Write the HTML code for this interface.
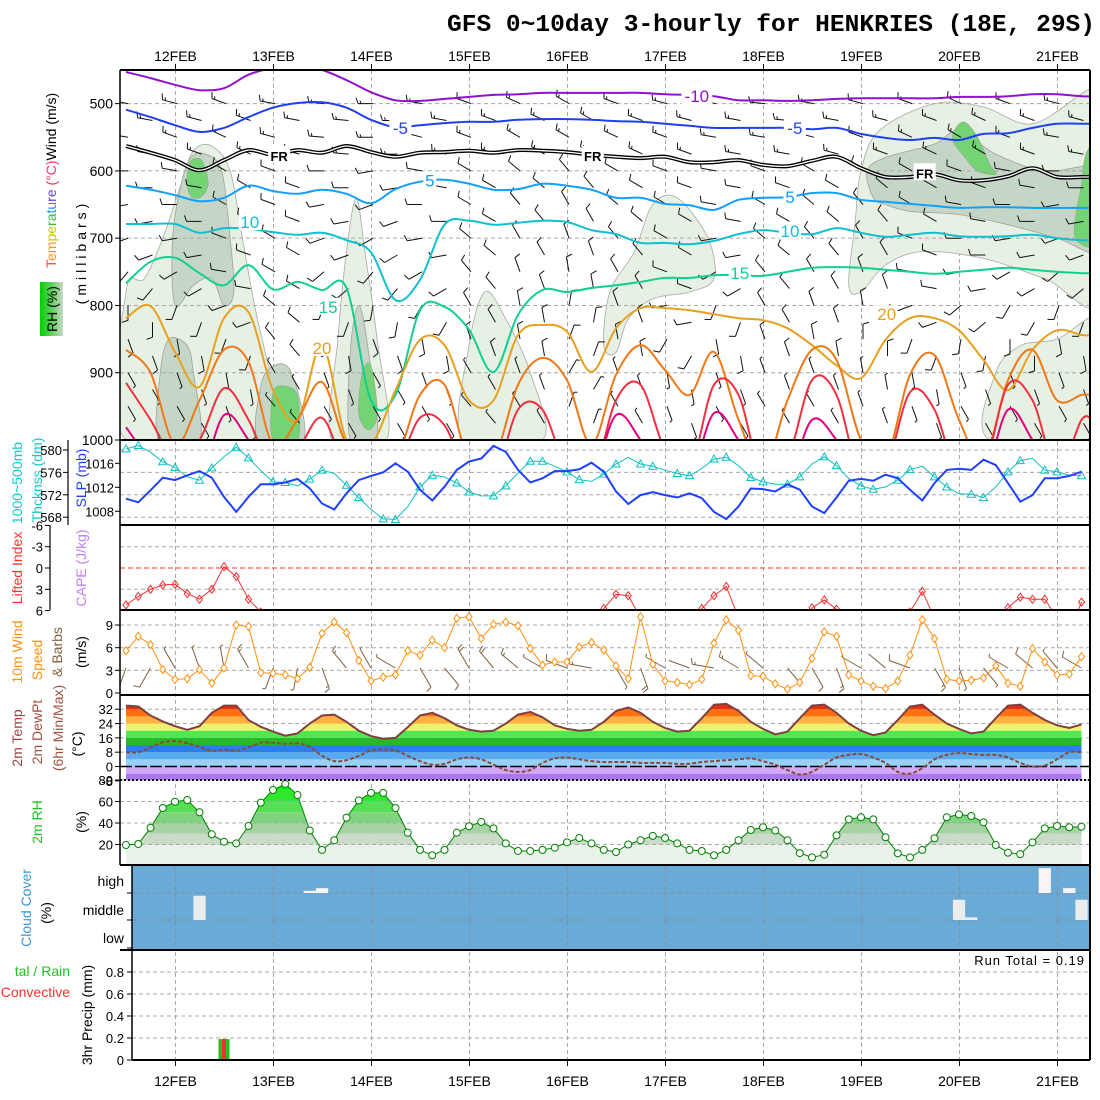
<!DOCTYPE html>
<html><head><meta charset="utf-8">
<style>
html,body{margin:0;padding:0;background:#fff;width:1100px;height:1100px;overflow:hidden}
svg{display:block;font-family:"Liberation Sans",sans-serif}
</style></head>
<body>
<svg id="c" width="1100" height="1100" viewBox="0 0 1100 1100">
<defs>
<clipPath id="clip1"><rect x="120" y="70" width="970" height="370"/></clipPath>
<clipPath id="clip2"><rect x="120" y="440" width="970" height="85"/></clipPath>
<clipPath id="clip3"><rect x="120" y="525" width="970" height="85"/></clipPath>
<clipPath id="clip4"><rect x="120" y="610" width="970" height="85"/></clipPath>
<linearGradient id="rhbox" x1="0" x2="1" y1="0" y2="0"><stop offset="0" stop-color="#00d000"/><stop offset="0.5" stop-color="#60d060"/><stop offset="1" stop-color="#c8d8c8"/></linearGradient>
</defs>
<rect x="0" y="0" width="1100" height="1100" fill="#fff"/>
<text x="447" y="31" textLength="648" lengthAdjust="spacingAndGlyphs" font-family="Liberation Mono,monospace" font-size="24" font-weight="bold">GFS 0~10day 3-hourly for HENKRIES (18E, 29S)</text>

<g font-size="14">
<text transform="translate(56,268) rotate(-90)"><tspan fill="#ff4040">T</tspan><tspan fill="#ff9020">em</tspan><tspan fill="#c8c800">pe</tspan><tspan fill="#30c030">ra</tspan><tspan fill="#2090f0">tu</tspan><tspan fill="#6040e0">re</tspan><tspan fill="#ff3060"> (°C)</tspan><tspan fill="#000">Wind (m/s)</tspan></text>
<rect x="40" y="282" width="23" height="54" fill="url(#rhbox)"/>
<text transform="translate(57,309) rotate(-90)" text-anchor="middle">RH (%)</text>
<text transform="translate(86,252) rotate(-90)" text-anchor="middle" letter-spacing="4">(millibars)</text>
<text transform="translate(22,483) rotate(-90)" text-anchor="middle" fill="#10c8c8">1000~500mb</text>
<text transform="translate(42,480) rotate(-90)" text-anchor="middle" fill="#10c8c8">Thcknss (dm)</text>
<text transform="translate(86,478) rotate(-90)" text-anchor="middle" fill="#2040ff">SLP (mb)</text>
<text transform="translate(22,568) rotate(-90)" text-anchor="middle" fill="#ff3030">Lifted Index</text>
<text transform="translate(86,568) rotate(-90)" text-anchor="middle" fill="#c080f0">CAPE (J/kg)</text>
<text transform="translate(22,652) rotate(-90)" text-anchor="middle" fill="#ff9010">10m Wind</text>
<text transform="translate(42,660) rotate(-90)" text-anchor="middle" fill="#ff9010">Speed</text>
<text transform="translate(62,652) rotate(-90)" text-anchor="middle" fill="#806040">&amp; Barbs</text>
<text transform="translate(86,652) rotate(-90)" text-anchor="middle">(m/s)</text>
<text transform="translate(22,738) rotate(-90)" text-anchor="middle" fill="#a04040">2m Temp</text>
<text transform="translate(42,732) rotate(-90)" text-anchor="middle" fill="#a05040">2m DewPt</text>
<text transform="translate(63,728) rotate(-90)" text-anchor="middle" fill="#a05040">(6hr Min/Max)</text>
<text transform="translate(82,744) rotate(-90)" text-anchor="middle">(°C)</text>
<text transform="translate(42,822) rotate(-90)" text-anchor="middle" fill="#20c020">2m RH</text>
<text transform="translate(86,822) rotate(-90)" text-anchor="middle">(%)</text>
<text transform="translate(31,908) rotate(-90)" text-anchor="middle" fill="#3a96d8">Cloud Cover</text>
<text transform="translate(51,913) rotate(-90)" text-anchor="middle">(%)</text>
<text transform="translate(92,1015) rotate(-90)" text-anchor="middle">3hr Precip (mm)</text>
<text x="70" y="976" text-anchor="end" fill="#20c020">tal / Rain</text>
<text x="70" y="997" text-anchor="end" fill="#ff3030">Convective</text>
</g>

<g id="grid"></g>
<g id="p1" clip-path="url(#clip1)"></g>
<g id="p2" clip-path="url(#clip2)"></g>
<g id="p3" clip-path="url(#clip3)"></g>
<g id="p4" clip-path="url(#clip4)"></g>
<g id="p5"></g>
<g id="p6"></g>
<g id="p7"></g>
<g id="p8"></g>
<g id="axes"></g>
<text x="1085" y="965" text-anchor="end" font-size="13" letter-spacing="1">Run Total = 0.19</text>
</svg>
<script>
// ---------- DATA ----------
const days = ['12FEB','13FEB','14FEB','15FEB','16FEB','17FEB','18FEB','19FEB','20FEB','21FEB'];
const slp = [1010.1,1009.5,1011.5,1013.6,1013.2,1014,1014.7,1013.6,1010.4,1007.9,1010.4,1012.5,1012.5,1012.8,1013.4,1011.8,1009.3,1008.3,1011,1013.2,1013.9,1014.5,1016,1014.6,1011.6,1009.8,1012.1,1014.9,1016.3,1016.8,1018.9,1017.9,1014.9,1012.8,1013.5,1014.7,1014.7,1015,1016.1,1014.6,1011.3,1009.2,1010.7,1011.2,1010.7,1010.3,1011,1010.2,1007.9,1006.7,1008.8,1011.8,1011.7,1011.3,1012.5,1011.6,1008.8,1007.7,1010.3,1013.1,1013.4,1013.1,1014.1,1013.5,1011.6,1009.8,1012.7,1014.9,1015.1,1014.9,1016.6,1015.7,1012.7,1009.6,1010.7,1013.5,1013.5,1013.9,1014.6];
const thick = [580.2,580.8,579.6,577.9,576.9,575.2,574.6,576.8,578.8,580.5,578.6,576.3,574.3,574.2,573.6,574.8,576.4,575.8,573.7,571.5,569.4,567.7,567.6,569.9,573.4,575.5,575.2,574.1,572.5,571.8,571.8,573.6,575.9,578,578,577.1,576.1,574.7,574.4,575.7,577.5,578.7,577.5,577.1,576.4,575.8,575.4,576.7,578.4,578.7,577.2,575.1,574.3,573.9,573.9,575.2,577.5,578.8,577.2,574.9,573.6,573,573.4,574.6,576.5,577.1,575.2,573.4,572.2,572.1,571.5,573.4,576.1,578.1,578.5,576.4,576.1,575.5,575.4];
const liftedIndex = [5.2,4,3,2.4,2.3,3.6,4.4,3,-0.2,1.2,4.4,6.2,9,9,9,9,9,9,9,9,9,9,9,9,9,9,9,9,9,9,9,9,9,9,9,9,9,9,9,5.7,3.7,3.9,7,9,9,9,9,5.7,3.9,2.6,7,9,9,9,9,9,5.6,4.5,5.8,7,9,9,9,9,6.2,3.3,7,9,9,9,9,9,5.6,4.1,4.4,4.4,7,9,4.8];
const wind10 = [5.6,7.5,6.4,3.1,1.8,1.9,3.1,1.3,3.3,9,8.8,2.7,2.6,2.4,1.9,3.4,7.9,9.4,8,4.3,1.6,2.1,2.4,5.6,5,7,6,9.9,10.1,7.2,9.1,9.4,8.9,5.9,3.7,4.1,4.1,6.1,6.7,5.7,3.6,1.9,10.1,3.8,1.6,1.4,1.1,1.8,6.6,9.7,8.3,2.3,2.2,1.2,0.5,1.4,4.6,8.1,7.5,2.4,1.6,0.9,0.6,1.6,5,9.7,7.2,1.8,1.6,1.7,2,3.6,1.3,0.9,5.9,4.1,2.4,2.5,4.8];
const windDir10 = [200,210,330,340,350,330,200,190,160,320,330,300,150,140,330,320,310,300,290,280,150,160,300,290,280,300,310,140,150,160,300,310,290,150,160,140,300,310,320,300];
const temp2m = [34,33.5,28.5,25.2,22.5,20.5,22.5,30,34,34,26,22.2,19.5,17.2,18.5,24,28.5,29,25,20,17,15.5,16,22,28.5,30,27,23,20.5,19.5,20,24,29,30.5,27.5,23,21,20,20.5,25,31,33,30,25,21.5,19.5,20,27,34.5,35,31,25,21,18,19.5,27,34,34.5,30,24,20,17.5,19,26,33.5,34.5,29,24,21,18.5,19.5,27,34,34.5,30,26,23,21.5,23.5];
const dew2m = [8,8,10.7,13.5,14.2,13,11,8.8,9.5,8.8,10.7,13.3,13.3,12.6,13,11,6,3,3.5,6,9,9.5,9,6,3,1,1.5,4,5,4,1,-2,-3,-2,2,4.5,5,4,3,2.5,2.5,2.5,2,2,2,1.5,1.5,2.5,3,3.5,4,4.5,3,1,-2,-4.5,-3,1,5,6.5,7,5,2,-3,-4,-1,4,6.5,7.5,7,6.5,6.5,5,2,0,0.5,4,8,8];
const rh2m = [19.5,20.5,35.6,54,59.8,61.4,50,29.5,22.6,21,37.2,58.9,70.7,76.3,66,33,15,24,45,61,68,68,54,31,15,10,15,31,37,41,35,21,14,14,15,17,22,26,21,15,13,20,24,28,26,21,15,14,10,15,24,33.5,36,33,24,12,8,10.5,28.5,43.4,45.3,43.4,26.7,11.8,8,15,25.7,45.3,48,46.5,40.6,19.5,12.4,11,22,35,37.2,36,36.6];
const cloudHigh = [[15,8],[16,18],[75,92],[77,18]];
const cloudMid = [[6,90],[68,75],[69,10],[78,75]];
const precipTotal = [[8,0.19]];
const precipConv = [[8,0.19]];
const isoM10 = [453,462,472,480,477,457,447,444,450,465,483,495,496,493,490,487,486,484,484,484,484,484,486,487,489,495,495,496,495,493,492,492,492,492,490,490,489,486,486,489];
const isoM5 = [509,520,532,542,536,520,506,499,498,506,524,535,532,529,527,527,524,523,523,524,526,527,530,533,536,536,536,536,538,536,545,551,554,551,554,545,544,536,530,530];
const isoFR = [563,573,584,599,584,569,576,569,573,563,572,579,573,572,570,573,569,570,572,576,579,581,579,587,587,584,591,593,585,579,596,609,609,605,614,614,608,596,609,609];
const isoP5 = [622,628,636,645,640,622,630,634,628,634,648,627,616,613,619,628,627,619,622,628,640,640,649,651,658,643,640,639,633,633,643,646,649,652,655,654,654,655,655,655];
const isoP10 = [679,679,679,692,685,686,691,695,692,703,721,792,762,680,674,680,677,674,676,688,694,707,707,709,704,694,688,692,694,685,692,698,695,692,697,698,697,695,700,703];
const isoP15 = [767,735,729,752,770,740,776,765,777,774,941,933,807,802,836,899,814,777,780,774,770,765,759,759,755,755,756,750,744,743,744,747,750,753,750,747,744,747,750,752];
const isoP20 = [819,801,869,921,819,810,926,970,859,1000,1007,926,851,859,941,941,844,829,839,899,834,804,804,807,813,819,822,834,859,889,908,851,819,819,837,881,926,866,837,844];
const isoP25 = [866,900,1007,941,866,884,1007,970,914,1007,1030,1030,933,918,1030,1030,918,878,911,1007,903,859,896,933,869,970,1045,941,866,881,1000,1030,903,874,970,1030,911,866,941,933];
const isoP30 = [915,970,1030,1000,923,970,1045,1015,967,1045,1060,1045,967,978,1060,1060,955,955,1045,1060,941,918,1015,1045,918,933,1060,1030,911,933,1060,1045,929,955,1060,1045,918,941,1045,970];
const isoP35 = [981,1030,1060,1060,963,1000,1060,1060,1060,1060,1060,1060,1060,1060,1060,1060,1060,1060,1060,1060,963,1000,1060,1060,960,1000,1060,1060,970,1000,1060,1060,1060,1060,1060,1060,955,1000,1060,1060];
const rhLight = [
 [[0,1000],[0,780],[1.5,760],[3,700],[4.5,620],[5.5,570],[7,563],[8.5,600],[9.5,700],[10.5,800],[11.5,880],[12.5,950],[13,1000]],
 [[16.8,1000],[17.3,850],[18,720],[18.8,640],[19.5,720],[20.5,850],[21.3,1000]],
 [[27.5,1000],[28,860],[29.3,780],[31,820],[33,900],[34,1000]],
 [[39,860],[39.5,780],[41.5,720],[43,650],[45,640],[47.5,700],[48,760],[46,780],[43,790],[41,820],[40,870]],
 [[59,770],[59.5,680],[60,600],[61.5,540],[66,500],[70,505],[74,530],[78.5,480],[80,480],[80,790],[75,760],[70,730],[65,720],[62,740],[60,780]],
 [[70.5,1000],[71,900],[73,860],[76,850],[80,820],[80,1000]]];
const rhMid = [
 [[4,800],[3.8,700],[4.5,620],[5.3,580],[6.5,575],[7.8,600],[8.5,700],[8.8,780],[8,800],[7,760],[5.5,770]],
 [[2.7,1000],[2.8,900],[3.5,850],[5,860],[5.5,900],[6,1000]],
 [[10.8,1000],[11,920],[12,890],[13.5,900],[14.5,1000]],
 [[18.3,1000],[18.3,870],[19,800],[19.8,870],[20.5,1000]],
 [[60.5,600],[62,580],[66,560],[68,540],[71,575],[75,600],[80,600],[80,720],[76,700],[72,680],[68,665],[64,660],[62,650],[61,640]]];
const rhWet = [
 [[5,610],[5.3,585],[6.2,585],[6.7,620],[6,640],[5.2,635]],
 [[12,1000],[12,930],[13,920],[14,935],[14,1000]],
 [[19,960],[19.3,900],[20,890],[20.5,960],[19.8,985]],
 [[67.5,555],[67.8,535],[68.5,528],[69.5,550],[70.5,590],[71,605],[69.5,600],[68.5,580]],
 [[77.5,700],[78,620],[78.5,570],[80,555],[80,700]]];
const barbLevels = [500,550,600,650,700,750,800,850,900,950];
const barbSpeed = [7,7,6,6,5,5,4,4,3,3];
const dir500 = [280,285,290,280,275,270,280,290,295,300,290,285,280,275,280,285,290,295,290,285];
const dir550 = [280,290,295,285,275,270,285,290,300,300,295,290,280,280,285,290,295,300,290,280];
const dir600 = [270,280,300,290,270,260,280,300,310,320,300,290,280,290,300,310,300,290,280,270];
const dir650 = [260,270,300,290,260,250,270,300,320,330,310,300,280,300,310,320,300,280,270,260];
const dir700 = [250,260,290,300,250,240,260,310,330,340,320,300,260,310,320,330,290,270,260,250];
const dir750 = [220,240,280,300,230,220,240,320,340,350,330,290,240,320,330,340,280,260,240,230];
const dir800 = [180,200,250,310,200,190,210,330,350,10,340,260,200,330,340,350,250,230,210,200];
const dir850 = [160,170,200,320,170,160,170,340,350,20,350,210,170,340,350,0,200,190,180,170];
const dir900 = [150,160,170,330,160,150,160,330,340,30,340,170,160,340,340,350,170,160,160,160];
const dir950 = [150,150,160,320,150,150,150,320,330,20,330,160,150,330,330,340,160,150,150,150];
const contourLabels = [['-10',46.6,489,'#9010d0'],['-5',22.4,536,'#2040f0'],['-5',54.6,536,'#2040f0'],['FR',12.5,576,'#000'],['FR',38.1,576,'#000'],['FR',65.2,602,'#000'],['5',24.8,614,'#10a0ff'],['5',54.2,639,'#10a0ff'],['10',10.1,676,'#10c0d0'],['10',54.2,689,'#10c0d0'],['15',16.5,802,'#10d090'],['15',50.1,752,'#10d090'],['20',16,863,'#e8a020'],['20',62.1,813,'#e8a020']];
const pTicks = [500,600,700,800,900,1000];
const slpTicks = [1016,1012,1008];
const thickTicks = [580,576,572,568];
const liTicks = [-6,-3,0,3,6];
const windTicks = [0,3,6,9];
const tempTicks = [-8,0,8,16,24,32];
const rhTicks = [20,40,60,80];
const precipTicks = [0,0.2,0.4,0.6,0.8];

// ---------- SCALES ----------
const NS='http://www.w3.org/2000/svg';
const svg=document.getElementById('c');
const X = i => 126 + 12.25*i;
const dayX = d => 175.5 + 98*d;
const yP = p => 70 + (p-450)*0.6727;
const yS = v => 463.3 + (1016-v)*6;
const yTh = v => 450 + (580-v)*5.6;
const yLI = v => 568 + v*7.1;
const yW = v => 693 - v*7.55;
const yT = v => 766.5 - v*1.79;
const yR = v => 866 - v*1.075;
const yPr = v => 1060 - v*110;
function mk(tag, attrs, parent){const e=document.createElementNS(NS,tag);for(const k in attrs)e.setAttribute(k,attrs[k]);(parent||svg).appendChild(e);return e;}
function smooth(pts, closed){
  const n=pts.length; if(n<2) return '';
  const P=i=>closed?pts[(i+n)%n]:pts[Math.max(0,Math.min(n-1,i))];
  let d='M'+pts[0][0].toFixed(1)+','+pts[0][1].toFixed(1);
  const segs=closed?n:n-1;
  for(let i=0;i<segs;i++){const p0=P(i-1),p1=P(i),p2=P(i+1),p3=P(i+2);
    const c1=[p1[0]+(p2[0]-p0[0])/6,p1[1]+(p2[1]-p0[1])/6], c2=[p2[0]-(p3[0]-p1[0])/6,p2[1]-(p3[1]-p1[1])/6];
    d+='C'+c1[0].toFixed(1)+','+c1[1].toFixed(1)+' '+c2[0].toFixed(1)+','+c2[1].toFixed(1)+' '+p2[0].toFixed(1)+','+p2[1].toFixed(1);}
  return closed?d+'Z':d;
}
function line(pts){return pts.map((p,i)=>(i?'L':'M')+p[0].toFixed(1)+','+p[1].toFixed(1)).join('');}
const G = id=>document.getElementById(id);
function barb(g,x,y,dir,spd,len,col,name){
  const r=dir*Math.PI/180, ux=Math.sin(r), uy=-Math.cos(r);
  const ex=x+ux*len, ey=y+uy*len;
  let d='M'+x.toFixed(1)+','+y.toFixed(1)+'L'+ex.toFixed(1)+','+ey.toFixed(1);
  let kt=Math.round(spd*1.94/5)*5; let pos=0;
  const px=-uy, py=ux;
  while(kt>=10){const bx=ex-ux*pos, by=ey-uy*pos; d+='M'+bx.toFixed(1)+','+by.toFixed(1)+'L'+(bx+px*6+ux*2).toFixed(1)+','+(by+py*6+uy*2).toFixed(1); kt-=10; pos+=3;}
  if(kt>=5){const bx=ex-ux*pos, by=ey-uy*pos; d+='M'+bx.toFixed(1)+','+by.toFixed(1)+'L'+(bx+px*3+ux).toFixed(1)+','+(by+py*3+uy).toFixed(1);}
  const el=mk('path',{d:d,stroke:col,'stroke-width':1,fill:'none'},g);
  
  
}

// ---------- PANEL 1 ----------
const p1=G('p1');
function blobs(list,fill,stroke,name){list.forEach(b=>{
  const el=mk('path',{d:smooth(b.map(q=>[X(q[0]),yP(q[1])]),true),fill:fill,stroke:stroke,'stroke-width':0.8},p1);
  
  
});}
blobs(rhLight,'#e6f1e4','#a8a8a8','rh-contour-light');
blobs(rhMid,'#c6d6c6','#a0a0a0','rh-contour-medium');
blobs(rhWet,'#74d474','#90b090','rh-contour-wet');
pTicks.forEach(p=>{const el=mk('line',{x1:120,x2:1090,y1:yP(p),y2:yP(p),stroke:'#a8a8a8','stroke-dasharray':'4,3'},p1);
  
  });
const dirRows=[dir500,dir550,dir600,dir650,dir700,dir750,dir800,dir850,dir900,dir950];
barbLevels.forEach((lev,r)=>{dirRows[r].forEach((dv,c)=>{
  barb(p1,X(c*4)+2,yP(lev),dv,barbSpeed[r],15,'#111','upper-wind-barb');
  barb(p1,X(c*4+2)+2,yP(lev+25),dv,barbSpeed[r],15,'#111','upper-wind-barb');
});});
const isos=[[isoM10,'#9010d0','isotherm-minus10'],[isoM5,'#2040f0','isotherm-minus5'],[isoP5,'#10a0ff','isotherm-5'],[isoP10,'#10c0d0','isotherm-10'],[isoP15,'#10d090','isotherm-15'],[isoP20,'#e8a020','isotherm-20'],[isoP25,'#f07818','isotherm-25'],[isoP30,'#f03040','isotherm-30'],[isoP35,'#e00080','isotherm-35']];
function isoPts(arr){const pts=arr.map((p,k)=>[X(2*k),yP(p)]);pts.push([1092,yP(arr[arr.length-1])]);return pts;}
isos.forEach(o=>{const el=mk('path',{d:smooth(isoPts(o[0]),false),stroke:o[1],'stroke-width':2,fill:'none'},p1);
  
  });
const fr1=mk('path',{d:smooth(isoPts(isoFR),false),stroke:'#000','stroke-width':4,fill:'none'},p1);


const fr2=mk('path',{d:smooth(isoPts(isoFR),false),stroke:'#fff','stroke-width':1.3,fill:'none'},p1);


contourLabels.forEach(l=>{const x=X(l[1]),y=yP(l[2]);const w=l[0].length*9+4;
  const bg=mk('rect',{x:x-w/2,y:y-9,width:w,height:17,fill:'#fff'},p1);
  
  
  const t=mk('text',{x:x,y:y+6,'text-anchor':'middle','font-size':l[0]==='FR'?13:17,'font-weight':l[0]==='FR'?'bold':'normal',fill:l[3]},p1);t.textContent=l[0];
  
  });

// ---------- GRID ----------
const grid=G('grid');
days.forEach((d,k)=>{const el=mk('line',{x1:dayX(k),x2:dayX(k),y1:70,y2:1060,stroke:'#a8a8a8','stroke-dasharray':'4,3'},grid);
  
  });
function hgrid(y,x0){const el=mk('line',{x1:x0||120,x2:1090,y1:y,y2:y,stroke:'#a8a8a8','stroke-dasharray':'4,3'},grid);
  
  }
thickTicks.forEach(v=>hgrid(yTh(v)));
[-3,3].forEach(v=>hgrid(yLI(v)));
[3,6,9].forEach(v=>hgrid(yW(v)));
[8,16,24,32].forEach(v=>hgrid(yT(v)));
rhTicks.forEach(v=>hgrid(yR(v)));
[0.2,0.4,0.6,0.8].forEach(v=>hgrid(yPr(v),132));

// ---------- PANEL 2 ----------
const p2=G('p2');
const thL=mk('path',{d:line(thick.map((v,i)=>[X(i),yTh(v)])),stroke:'#10c0c0','stroke-width':1,fill:'none'},p2);


thick.forEach((v,i)=>{if(i%3!==0&&i%3!==1)return;const x=X(i),y=yTh(v);
  const m=mk('path',{d:`M${x},${y-4}L${x+4},${y+3}L${x-4},${y+3}Z`,fill:'none',stroke:'#10c0c0','stroke-width':1},p2);
  
  });
const slpL=mk('path',{d:line(slp.map((v,i)=>[X(i),yS(v)])),stroke:'#2040ff','stroke-width':2,fill:'none'},p2);



// ---------- PANEL 3 ----------
const p3=G('p3');
const zl=mk('line',{x1:120,x2:1090,y1:yLI(0),y2:yLI(0),stroke:'#ff3030','stroke-dasharray':'5,3'},p3);


const liL=mk('path',{d:line(liftedIndex.map((v,i)=>[X(i),yLI(v)])),stroke:'#f03030','stroke-width':1,fill:'none'},p3);


liftedIndex.forEach((v,i)=>{if(v>6.5)return;const x=X(i),y=yLI(v);
  const m=mk('path',{d:`M${x},${y-4}L${x+3},${y}L${x},${y+4}L${x-3},${y}Z`,fill:'none',stroke:'#f03030'},p3);
  
  });

// ---------- PANEL 4 ----------
const p4=G('p4');
windDir10.forEach((dv,k)=>{barb(p4,X(2*k),668,dv,wind10[2*k],22,'#806040','wind10-barb');});
const wL=mk('path',{d:line(wind10.map((v,i)=>[X(i),yW(v)])),stroke:'#ff9010','stroke-width':1,fill:'none'},p4);


wind10.forEach((v,i)=>{const x=X(i),y=yW(v);
  const m=mk('path',{d:`M${x},${y-4}L${x+3},${y}L${x},${y+4}L${x-3},${y}Z`,fill:'#fff',stroke:'#ff9010'},p4);
  
  });

// ---------- PANEL 5 ----------
const p5=G('p5');
const defs=svg.querySelector('defs');
const tc=mk('clipPath',{id:'tclip'},defs);
const tpoly=mk('path',{d:line(temp2m.map((v,i)=>[X(i),yT(v)]))+`L${X(78)},780L${X(0)},780Z`},tc);


const tBandLo=[-8,-4,0,4,8,12,16,20,24,28,32];
const tBandCol=['#a878f0','#d2a8f8','#98d0f8','#5aaaf0','#2a80e8','#28b828','#50e850','#f0f070','#ffb040','#ff7010','#e83010'];
const tg=mk('g',{'clip-path':'url(#tclip)'},p5);


tBandLo.forEach((lo,k)=>{const hi=lo+(k===tBandLo.length-1?10:4);
  const r=mk('rect',{x:X(0),y:yT(hi),width:X(78)-X(0),height:yT(lo)-yT(hi),fill:tBandCol[k]},tg);
  
  });
const z0=mk('line',{x1:120,x2:1090,y1:yT(0),y2:yT(0),stroke:'#000','stroke-width':1.5,'stroke-dasharray':'12,3'},p5);


const tL=mk('path',{d:line(temp2m.map((v,i)=>[X(i),yT(v)])),stroke:'#804040','stroke-width':2,fill:'none'},p5);


const dL=mk('path',{d:smooth(dew2m.map((v,i)=>[X(i),yT(v)]),false),stroke:'#8a4a3a','stroke-width':2,fill:'none','stroke-dasharray':'4,2'},p5);



// ---------- PANEL 6 ----------
const p6=G('p6');
const rc=mk('clipPath',{id:'rclip'},defs);
const rpoly=mk('path',{d:line(rh2m.map((v,i)=>[X(i),yR(v)]))+`L${X(78)},866L${X(0)},866Z`},rc);


const rLo=[0,20,30,40,50,60,70,80], rHi=[20,30,40,50,60,70,80,100];
const rCol=['#e9f3e9','#cadbca','#a6d2a6','#80d480','#55e055','#30e830','#10f010','#00c000'];
const rg=mk('g',{'clip-path':'url(#rclip)'},p6);


rLo.forEach((lo,k)=>{const r=mk('rect',{x:X(0),y:yR(rHi[k]),width:X(78)-X(0),height:yR(lo)-yR(rHi[k]),fill:rCol[k]},rg);
  
  });
rhTicks.forEach(v=>{const el=mk('line',{x1:120,x2:1090,y1:yR(v),y2:yR(v),stroke:'#a8a8a8','stroke-dasharray':'4,3'},p6);
  
  });
const rL=mk('path',{d:line(rh2m.map((v,i)=>[X(i),yR(v)])),stroke:'#008000','stroke-width':1,fill:'none'},p6);


rh2m.forEach((v,i)=>{const c=mk('circle',{cx:X(i),cy:yR(v),r:3.5,fill:'#fff',stroke:'#008000'},p6);
  
  });

// ---------- PANEL 7 ----------
const p7=G('p7');
const cbg=mk('rect',{x:132,y:865,width:958,height:85,fill:'#6aaad6'},p7);


[893,920].forEach(y=>{const el=mk('line',{x1:132,x2:1090,y1:y,y2:y,stroke:'#8090a0','stroke-dasharray':'4,3'},p7);
  
  });
days.forEach((d,k)=>{const el=mk('line',{x1:dayX(k),x2:dayX(k),y1:865,y2:950,stroke:'#8090a0','stroke-dasharray':'4,3'},p7);
  
  });
function cloudBars(arr,base,h,col,name){arr.forEach(q=>{const hh=h*q[1]/100;
  const r=mk('rect',{x:X(q[0])-6.1,y:base-hh,width:12.25,height:hh,fill:col},p7);
  
  });}
cloudBars(cloudHigh,893,27,'#f8f4f8','high-cloud-bar');
cloudBars(cloudMid,920,27,'#ececec','middle-cloud-bar');

// ---------- PANEL 8 ----------
const p8=G('p8');
precipTotal.forEach(q=>{const r=mk('rect',{x:X(q[0])-5.5,y:yPr(q[1]),width:11,height:yPr(0)-yPr(q[1]),fill:'#20c020'},p8);
  
  });
precipConv.forEach(q=>{const r=mk('rect',{x:X(q[0])-2,y:yPr(q[1]),width:4,height:yPr(0)-yPr(q[1]),fill:'#f03030'},p8);
  
  });

// ---------- AXES ----------
const ax=G('axes');
function L(x1,y1,x2,y2,w,dash,name){const el=mk('line',{x1:x1,y1:y1,x2:x2,y2:y2,stroke:'#000','stroke-width':w||1.5},ax);if(dash)el.setAttribute('stroke-dasharray',dash);
  
  }
function T(x,y,s,anchor,size,name){const t=mk('text',{x:x,y:y,'text-anchor':anchor||'end','font-size':size||13},ax);t.textContent=s;
  
  }
[70,440,525,610,695,865,950].forEach(y=>L(120,y,1090,y,2));
L(120,780,1090,780,2,'2,2','temp-panel-bottom');
L(132,1060,1090,1060,2,null,'precip-baseline');
L(1090,70,1090,1060,2,null,'right-frame');
L(120,70,120,865,1.5,null,'left-frame');
L(132,865,132,1060,1.5,null,'left-frame-lower');
L(68,440,68,525,1.2,null,'thickness-axis');
L(50,525,50,610,1.2,null,'li-axis');
pTicks.forEach(p=>{L(115,yP(p),120,yP(p),1);T(113,yP(p)+5,String(p),'end',14,'pressure-tick-label');});
slpTicks.forEach(v=>{L(115,yS(v),120,yS(v),1);T(114,yS(v)+5,String(v),'end',13,'slp-tick-label');});
thickTicks.forEach(v=>{L(63,yTh(v),68,yTh(v),1);T(62,yTh(v)+5,String(v),'end',13,'thickness-tick-label');});
liTicks.forEach(v=>{L(45,yLI(v),50,yLI(v),1);T(43,yLI(v)+5,String(v),'end',13,'li-tick-label');});
windTicks.forEach(v=>{L(115,yW(v),120,yW(v),1);T(113,yW(v)+5,String(v),'end',13,'wind-tick-label');});
tempTicks.forEach(v=>{L(115,yT(v),120,yT(v),1);T(113,yT(v)+5,String(v),'end',13,'temp-tick-label');});
rhTicks.forEach(v=>{L(115,yR(v),120,yR(v),1);T(113,yR(v)+5,String(v),'end',13,'rh-tick-label');});
[['high',881],['middle',910],['low',938]].forEach(c=>T(124,c[1]+5,c[0],'end',14,'cloud-layer-label'));
[865,893,920,948].forEach(y=>L(127,y,132,y,1));
precipTicks.forEach(v=>{L(127,yPr(v),132,yPr(v),1);T(124,yPr(v)+5,String(v),'end',13,'precip-tick-label');});
days.forEach((d,k)=>{T(dayX(k),61,d,'middle',14,'top-date-label');T(dayX(k),1086,d,'middle',14,'bottom-date-label');
  L(dayX(k),1060,dayX(k),1066,1);L(dayX(k),64,dayX(k),70,1);});
</script>
</body></html>
